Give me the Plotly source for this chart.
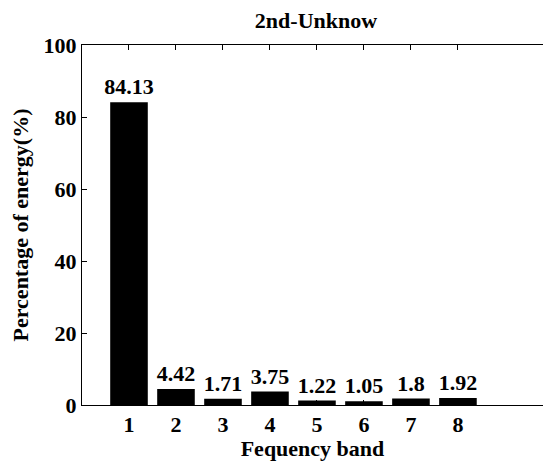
import plotly.graph_objects as go

bands = [1, 2, 3, 4, 5, 6, 7, 8]
energy = [84.13, 4.42, 1.71, 3.75, 1.22, 1.05, 1.8, 1.92]
labels = ["84.13", "4.42", "1.71", "3.75", "1.22", "1.05", "1.8", "1.92"]
y_ticks = [0, 20, 40, 60, 80, 100]

FONT = "Liberation Serif"
W, H = 543, 461


def f(size=22):
    return dict(family=FONT, size=size, color="black", weight="bold")


fig = go.Figure()
fig.add_trace(go.Bar(
    x=bands, y=energy, width=0.8,
    marker=dict(color="black", line=dict(width=0)),
    text=labels, textposition="outside", cliponaxis=False,
    constraintext="none",
    textfont=f(),
))

fig.update_layout(
    width=W, height=H,
    margin=dict(l=82, r=0, t=45, b=56),
    plot_bgcolor="white", paper_bgcolor="white",
    showlegend=False,
    font=f(),
    title=dict(text="2nd-Unknow", x=316 / W, xref="container", xanchor="center",
               y=1 - 20 / H, yref="container", yanchor="middle", font=f()),
    xaxis=dict(range=[0, 9.81], tickvals=bands, ticktext=[str(b) for b in bands],
               ticks="inside", ticklen=5, tickwidth=1, tickcolor="black",
               showline=True, linecolor="black", linewidth=1, mirror="ticks",
               showgrid=False, zeroline=False,
               title=dict(text="Fequency band", standoff=4, font=f()),
               tickfont=f()),
    yaxis=dict(range=[0, 100], tickvals=y_ticks,
               ticks="inside", ticklen=5, tickwidth=1, tickcolor="black",
               showline=True, linecolor="black", linewidth=1, mirror=False,
               showgrid=False, zeroline=False,
               title=dict(text="Percentage of energy(%)", standoff=8, font=f()),
               tickfont=f()),
)

fig.write_html("out.html")
